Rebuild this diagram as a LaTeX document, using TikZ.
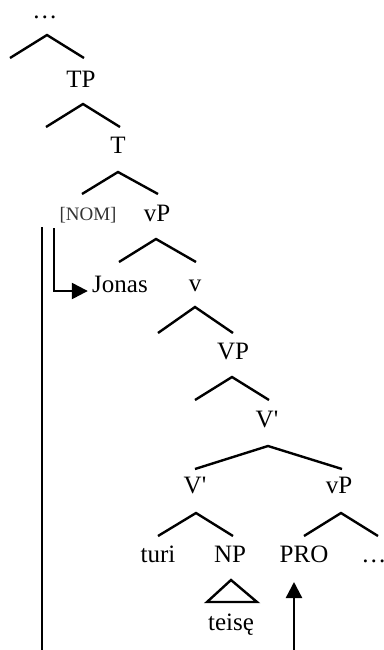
\documentclass[tikz,border=0pt]{standalone}
\usepackage{fontspec}
\setmainfont{Liberation Serif}
\usetikzlibrary{arrows.meta}

\begin{document}
\begin{tikzpicture}[x=0.5pt, y=-0.5pt,
    lbl/.style={anchor=base, inner sep=2pt, font=\fontsize{12.5}{14}\selectfont},
    feat/.style={anchor=base, inner sep=2pt, text=black!80, font=\fontsize{9.5}{11}\selectfont},
    branch/.style={line width=1.2pt},
    mover/.style={line width=1.2pt, -{Triangle[length=8pt,width=8pt]}}]
  \useasboundingbox (0,0) rectangle (384,650);

  % labels of the tree
  \node[lbl] (top) at (45,18) {\dots};
  \node[lbl] (tp) at (81,87) {TP};
  \node[lbl] (t) at (118,153) {T};
  \node[feat] (nom) at (88,220) {[NOM]};
  \node[lbl] (vpA) at (157,221) {vP};
  \node[lbl] (jonas) at (120,292) {Jonas};
  \node[lbl] (vsmall) at (195,291) {v};
  \node[lbl] (vp) at (233,359) {VP};
  \node[lbl] (vbarA) at (267,427) {V\textquotesingle};
  \node[lbl] (vbarB) at (195,493) {V\textquotesingle};
  \node[lbl] (vpB) at (339,493) {vP};
  \node[lbl] (turi) at (158,562) {turi};
  \node[lbl] (np) at (230,562) {NP};
  \node[lbl] (pro) at (304,562) {PRO};
  \node[lbl] (dotsB) at (374,562) {\dots};
  \node[lbl] (teise) at (231,630) {teisę};

  % branches
  \draw[branch] (10,58) -- (47,35) -- (84,58);
  \draw[branch] (46,127) -- (83,104) -- (120,127);
  \draw[branch] (82,194) -- (118,172) -- (158,194);
  \draw[branch] (119,262) -- (156,239) -- (196,262);
  \draw[branch] (158,333) -- (195,307) -- (233,333);
  \draw[branch] (195,400) -- (232,377) -- (269,400);
  \draw[branch] (195,469) -- (268,446) -- (342,469);
  \draw[branch] (158,536) -- (196,513) -- (233,536);
  \draw[branch] (304,536) -- (341,513) -- (378,536);
  \draw[branch] (207,602) -- (231,580) -- (257,602) -- cycle;

  % movement lines
  \coordinate (nomfoot) at (54,228);
  \coordinate (lineTop) at (42,227);
  \coordinate (lineBot) at (42,650);
  \coordinate (proFoot) at (294,650);
  \coordinate (proTip) at (294,582);
  \draw[mover] (nomfoot) |- ([yshift=0.5pt]jonas.base west);
  \draw[branch] (lineTop) -- (lineBot);
  \draw[mover] (proFoot) -- (proTip);
\end{tikzpicture}
\end{document}
